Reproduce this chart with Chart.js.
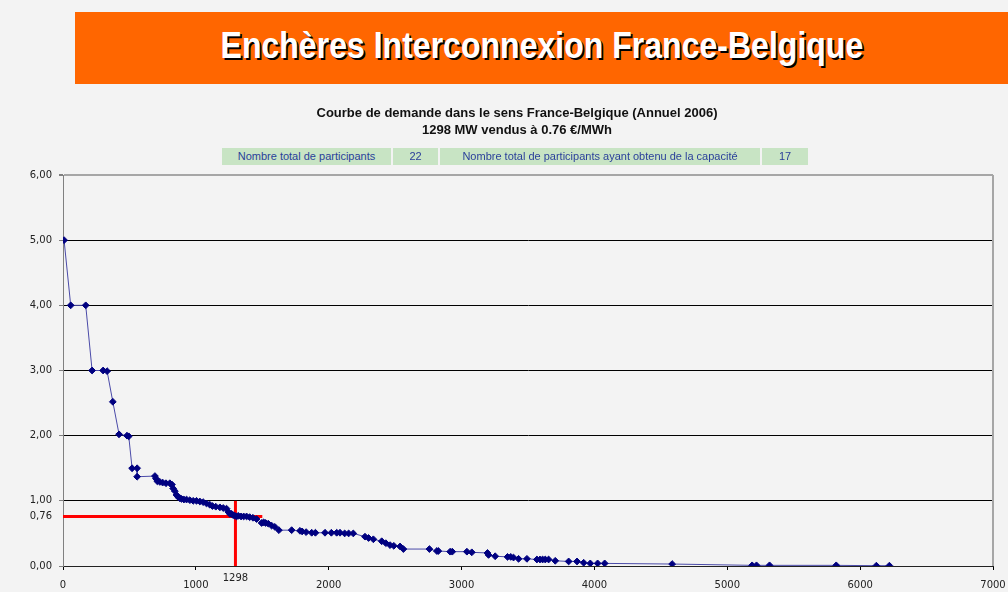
<!DOCTYPE html>
<html>
<head>
<meta charset="utf-8">
<script src="https://cdn.jsdelivr.net/npm/chart.js@4.4.1/dist/chart.umd.min.js"></script>
<style>
  html, body { margin:0; padding:0; }
  body { width:1008px; height:592px; background:#f3f3f3; position:relative; overflow:hidden; font-family:"Liberation Sans", Arial, sans-serif; }
  #banner { position:absolute; left:75px; top:12px; width:933px; height:72px; background:#ff6600; }
  #banner span { position:absolute; left:0; right:0; top:13px; text-align:center; color:#fff; font-family:"Liberation Sans",Arial,sans-serif; font-weight:bold; font-size:36px; text-shadow:2px 2px 0 #000; line-height:42px; transform:scaleX(0.89); transform-origin:470px 50%; }
  #sub { position:absolute; left:0; width:1034px; top:104px; text-align:center; font-weight:bold; font-size:13px; line-height:17px; color:#111; }
  .cell { position:absolute; top:148px; height:17px; background:#c8e4c4; color:#2a3f9a; font-size:11px; line-height:17px; text-align:center; white-space:nowrap; }
  #wrap { position:absolute; left:0; top:0; width:1008px; height:592px; }
</style>
</head>
<body>
<div id="wrap"><canvas id="c" width="1008" height="592"></canvas></div>
<div id="banner"><span>Enchères Interconnexion France-Belgique</span></div>
<div id="sub">Courbe de demande dans le sens France-Belgique (Annuel 2006)<br>1298 MW vendus à 0.76 €/MWh</div>
<div class="cell" style="left:222px;width:169px;">Nombre total de participants</div>
<div class="cell" style="left:393px;width:45px;">22</div>
<div class="cell" style="left:440px;width:320px;">Nombre total de participants ayant obtenu de la capacité</div>
<div class="cell" style="left:762px;width:46px;">17</div>
<script>
// Demand curve: cumulative volume (MW) and bid price (€/MWh)
const volumes = [8, 58, 171, 219, 302, 332, 375, 422, 482, 495, 520, 558, 558,
  692, 700, 710, 729, 750, 775, 804, 820, 829, 842, 854, 866, 879, 892, 910, 930, 955, 980, 1005, 1030,
  1055, 1080, 1105, 1125, 1150, 1181, 1206, 1231, 1244, 1256, 1269, 1281, 1294, 1306, 1319, 1340, 1360,
  1382, 1405, 1430, 1457, 1495, 1510, 1525, 1545, 1570, 1595, 1625, 1721, 1784, 1800, 1830, 1872, 1900,
  1972, 2020, 2060, 2085, 2120, 2150, 2185, 2273, 2300, 2336, 2399, 2430, 2462, 2490, 2537, 2562,
  2758, 2814, 2825, 2914, 2930, 3040, 3077, 3195, 3203, 3253, 3346, 3370, 3391, 3429, 3492,
  3567, 3590, 3610, 3630, 3655, 3705, 3806, 3869, 3919, 3969, 4024, 4077, 4585, 5187, 5220, 5318, 5820, 6122, 6220];
const prices = [5.00, 4.00, 4.00, 3.00, 3.00, 2.99, 2.52, 2.02, 2.00, 1.99, 1.50, 1.50, 1.37,
  1.38, 1.34, 1.30, 1.29, 1.28, 1.27, 1.27, 1.25, 1.19, 1.15, 1.09, 1.06, 1.04, 1.03, 1.02, 1.02, 1.01, 1.00, 1.00, 0.99,
  0.98, 0.96, 0.94, 0.92, 0.91, 0.90, 0.89, 0.88, 0.83, 0.80, 0.80, 0.78, 0.77, 0.76, 0.77, 0.76, 0.76,
  0.76, 0.75, 0.74, 0.72, 0.66, 0.67, 0.66, 0.65, 0.62, 0.60, 0.55, 0.55, 0.54, 0.53, 0.52, 0.51, 0.51,
  0.51, 0.51, 0.51, 0.51, 0.50, 0.50, 0.50, 0.45, 0.43, 0.41, 0.38, 0.35, 0.32, 0.31, 0.30, 0.26,
  0.26, 0.23, 0.23, 0.22, 0.22, 0.22, 0.21, 0.20, 0.17, 0.15, 0.14, 0.14, 0.13, 0.11, 0.11,
  0.10, 0.10, 0.10, 0.10, 0.10, 0.08, 0.07, 0.07, 0.05, 0.04, 0.04, 0.04, 0.03, 0.01, 0.01, 0.01, 0.01, 0.005, 0.005];

const clearingVolume = 1298;
const clearingPrice = 0.76;
const priceLineEndVolume = 1500;
const volumeLineEndPrice = 1.0;

const xTicks = [0, 1000, 2000, 3000, 4000, 5000, 6000, 7000];
const yTicks = [0, 0.76, 1, 2, 3, 4, 5, 6];

const fmtY = v => v.toFixed(2).replace('.', ',');

const decor = {
  id: 'decor',
  afterDraw(chart) {
    const { ctx, chartArea: a, scales } = chart;
    ctx.save();
    ctx.strokeStyle = '#a6a6a6';
    ctx.lineWidth = 2;
    ctx.beginPath();
    ctx.moveTo(a.right, a.top);
    ctx.lineTo(a.right, a.bottom);
    ctx.stroke();
    const x = scales.x.getPixelForValue(clearingVolume);
    ctx.fillStyle = '#222';
    ctx.font = '10px "DejaVu Sans", sans-serif';
    ctx.textAlign = 'center';
    ctx.textBaseline = 'middle';
    ctx.fillText(String(clearingVolume), x, a.bottom + 12);
    ctx.restore();
  }
};

new Chart(document.getElementById('c'), {
  type: 'line',
  data: {
    datasets: [
      {
        data: volumes.map((v, i) => ({ x: v, y: prices[i] })),
        borderColor: '#4a4aa8',
        borderWidth: 1,
        pointStyle: 'rectRot',
        pointRadius: 3.4,
        pointBackgroundColor: '#000080',
        pointBorderColor: '#000080',
        pointBorderWidth: 1,
        tension: 0,
        order: 1
      },
      {
        data: [{ x: 0, y: clearingPrice }, { x: priceLineEndVolume, y: clearingPrice }],
        borderColor: '#ff0000',
        borderWidth: 3,
        pointRadius: 0,
        order: 2
      },
      {
        data: [{ x: clearingVolume, y: 0 }, { x: clearingVolume, y: volumeLineEndPrice }],
        borderColor: '#ff0000',
        borderWidth: 3,
        pointRadius: 0,
        order: 2
      }
    ]
  },
  options: {
    responsive: false,
    animation: false,
    layout: { padding: { top: 175, right: 15, left: 0, bottom: 0 } },
    plugins: { legend: { display: false }, tooltip: { enabled: false }, title: { display: false } },
    scales: {
      x: {
        type: 'linear',
        min: 0, max: 7000,
        afterBuildTicks: s => { s.ticks = xTicks.map(v => ({ value: v })); },
        afterFit: s => { s.height = 26; s.paddingRight = 0; s.paddingLeft = 0; },
        grid: { drawOnChartArea: false, drawTicks: true, tickLength: 4, color: '#000' },
        border: { color: '#222', width: 1 },
        ticks: { color: '#222', font: { family: '"DejaVu Sans", sans-serif', size: 10 }, padding: 9, maxRotation: 0, callback: v => String(v) }
      },
      y: {
        type: 'linear',
        min: 0, max: 6,
        afterBuildTicks: s => { s.ticks = yTicks.map(v => ({ value: v })); },
        afterFit: s => { s.width = 63; s.paddingTop = 0; s.paddingBottom = 0; },
        grid: {
          drawTicks: true, tickLength: 4,
          color: c => {
            const v = c.tick ? c.tick.value : null;
            if (v === 0.76 || v === 0) return 'rgba(0,0,0,0)';
            if (v === 6) return '#a6a6a6';
            return '#000';
          },
          lineWidth: c => (c.tick && c.tick.value === 6) ? 2 : 1,
          tickColor: c => (c.tick && c.tick.value === 0.76) ? 'rgba(0,0,0,0)' : '#808080'
        },
        border: { color: '#808080', width: 1 },
        ticks: { color: '#222', font: { family: '"DejaVu Sans", sans-serif', size: 10 }, padding: 7, callback: v => fmtY(v) }
      }
    }
  },
  plugins: [decor]
});
</script>
</body>
</html>
